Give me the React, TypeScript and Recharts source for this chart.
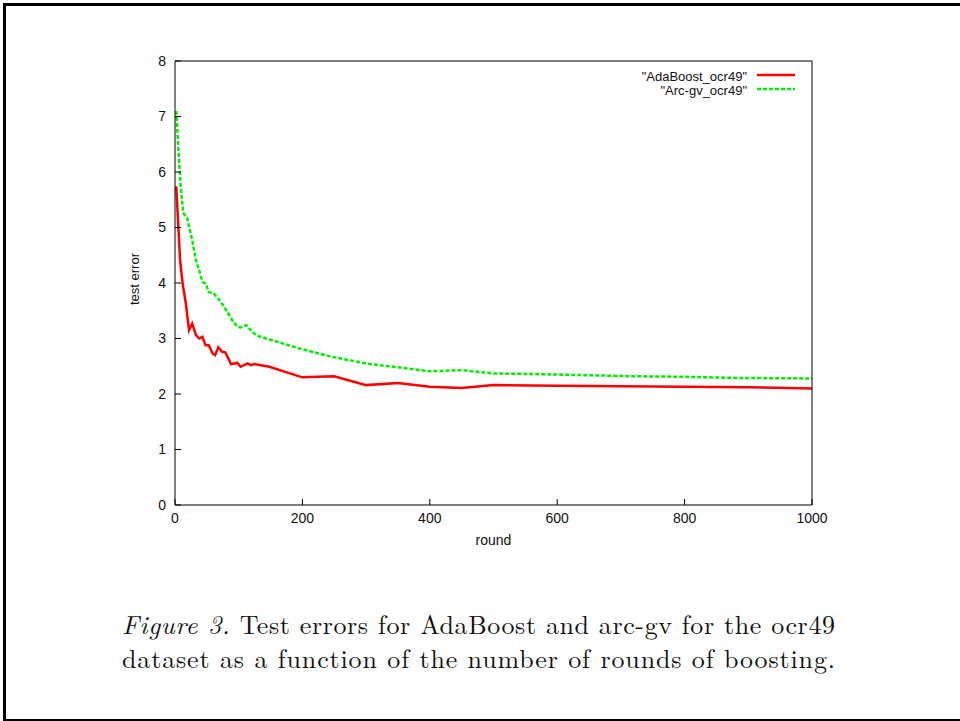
import React from 'react';
import { LineChart, Line, XAxis, YAxis, Legend } from 'recharts';

const adaRounds = [2, 5, 8, 12, 17, 22, 27, 33, 38, 43, 48, 53, 59, 63, 68, 74, 79, 88, 98, 103, 114, 119, 124, 148, 200, 250, 300, 350, 400, 450, 500, 600, 700, 800, 900, 1000];
const adaErrors = [5.74, 5.07, 4.41, 3.99, 3.63, 3.15, 3.27, 3.06, 3.0, 3.03, 2.88, 2.88, 2.73, 2.7, 2.84, 2.76, 2.75, 2.54, 2.56, 2.49, 2.55, 2.52, 2.54, 2.49, 2.3, 2.32, 2.16, 2.2, 2.13, 2.11, 2.16, 2.15, 2.14, 2.13, 2.12, 2.1];

const arcRounds = [2, 6, 9, 13, 19, 27, 33, 38, 43, 48, 53, 61, 72, 82, 90, 98, 103, 112, 119, 127, 143, 164, 195, 247, 300, 350, 400, 450, 500, 560, 640, 720, 800, 880, 1000];
const arcErrors = [7.1, 6.28, 5.74, 5.26, 5.17, 4.77, 4.41, 4.23, 4.02, 3.99, 3.84, 3.81, 3.66, 3.48, 3.33, 3.21, 3.2, 3.24, 3.15, 3.06, 3.0, 2.93, 2.82, 2.67, 2.55, 2.48, 2.41, 2.43, 2.37, 2.36, 2.34, 2.32, 2.31, 2.29, 2.28];

const xTicks = [0, 200, 400, 600, 800, 1000];
const yTicks = [0, 1, 2, 3, 4, 5, 6, 7, 8];
const seriesNames = ['"AdaBoost_ocr49"', '"Arc-gv_ocr49"'];
const seriesColors = ['#ff0000', '#00ee00'];
const seriesDash = ['', '4 2'];
const xLabel = 'round';
const yLabel = 'test error';
const captionItalic = 'Figure 3.';
const captionLine1 = ' Test errors for AdaBoost and arc-gv for the ocr49';
const captionLine2 = 'dataset as a function of the number of rounds of boosting.';

const adaData = adaRounds.map((r, i) => ({ round: r, err: adaErrors[i] }));
const arcData = arcRounds.map((r, i) => ({ round: r, err: arcErrors[i] }));

const SANS = '"Liberation Sans", Arial, Helvetica, sans-serif';
const SERIF = '"Latin Modern Roman", "Liberation Serif", "Times New Roman", serif';

function LegendContent(props: any) {
  const payload = props.payload || [];
  return (
    <svg width={960} height={40} style={{ display: 'block' }}>
      {payload.map((e: any, i: number) => {
        const cy = 12 + i * 14;
        return (
          <g key={i}>
            <text x={747} y={cy + 1} textAnchor="end" dominantBaseline="central" fontFamily={SANS} fontSize={13} fill="#111">
              {e.value}
            </text>
            <line x1={757} x2={795} y1={cy} y2={cy} stroke={e.color} strokeWidth={2.5} strokeDasharray={seriesDash[i] || undefined} />
          </g>
        );
      })}
    </svg>
  );
}

export default function App() {
  const tickStyle = { fontFamily: SANS, fontSize: 14, fill: '#111' };
  return (
    <div style={{ position: 'fixed', left: 0, top: 0, width: 960, height: 721, overflow: 'hidden', background: '#fff' }}>
      <div style={{ position: 'absolute', left: 3, top: 3, width: 1000, height: 719, border: '3px solid #000', boxSizing: 'border-box' }} />
      <div style={{ position: 'absolute', left: 0, top: 0 }}>
        <LineChart width={960} height={721} margin={{ top: 60, right: 147, bottom: 166, left: 125 }}>
          <XAxis
            xAxisId="main"
            dataKey="round"
            type="number"
            domain={[0, 1000]}
            ticks={xTicks}
            allowDataOverflow
            height={50}
            tickSize={-6}
            tickMargin={14}
            tick={tickStyle}
            stroke="#000"
            tickLine={{ stroke: '#000' }}
            axisLine={{ stroke: '#000' }}
            label={{
              content: (p: any) => {
                const vb = p.viewBox || {};
                return (
                  <text x={vb.x + vb.width / 2} y={vb.y + 35} textAnchor="middle" dominantBaseline="central" fontFamily={SANS} fontSize={14} fill="#111">
                    {xLabel}
                  </text>
                );
              },
            }}
          />
          <XAxis
            xAxisId="top"
            orientation="top"
            dataKey="round"
            type="number"
            domain={[0, 1000]}
            ticks={xTicks}
            allowDataOverflow
            height={1}
            tickSize={-6}
            tick={false}
            stroke="#000"
            tickLine={{ stroke: '#000' }}
            axisLine={{ stroke: '#000' }}
          />
          <YAxis
            yAxisId="main"
            type="number"
            domain={[0, 8]}
            ticks={yTicks}
            allowDataOverflow
            width={50}
            tickSize={-6}
            tickMargin={15}
            tick={tickStyle}
            stroke="#000"
            tickLine={{ stroke: '#000' }}
            axisLine={{ stroke: '#000' }}
            label={{
              content: (p: any) => {
                const vb = p.viewBox || {};
                const cx = vb.x + 9;
                const cy = vb.y + vb.height / 2 - 4;
                return (
                  <text x={cx} y={cy} transform={`rotate(-90 ${cx} ${cy})`} textAnchor="middle" dominantBaseline="central" fontFamily={SANS} fontSize={13} fill="#111">
                    {yLabel}
                  </text>
                );
              },
            }}
          />
          <YAxis
            yAxisId="right"
            orientation="right"
            type="number"
            domain={[0, 8]}
            ticks={yTicks}
            allowDataOverflow
            width={1}
            tickSize={-6}
            tick={false}
            stroke="#000"
            tickLine={{ stroke: '#000' }}
            axisLine={{ stroke: '#000' }}
          />
          <Legend
            layout="vertical"
            align="center"
            verticalAlign="middle"
            wrapperStyle={{ position: 'absolute', top: 63, left: 0, width: 960, height: 40 }}
            content={<LegendContent />}
          />
          <Line
            xAxisId="main"
            yAxisId="main"
            data={adaData}
            dataKey="err"
            name={seriesNames[0]}
            type="linear"
            stroke={seriesColors[0]}
            strokeWidth={2.5}
            dot={false}
            activeDot={false}
            isAnimationActive={false}
          />
          <Line
            xAxisId="main"
            yAxisId="main"
            data={arcData}
            dataKey="err"
            name={seriesNames[1]}
            type="linear"
            stroke={seriesColors[1]}
            strokeWidth={2.5}
            strokeDasharray={seriesDash[1]}
            dot={false}
            activeDot={false}
            isAnimationActive={false}
          />
        </LineChart>
      </div>
      <svg width={960} height={721} style={{ position: 'absolute', left: 0, top: 0, pointerEvents: 'none' }}>
        <text x={122} y={634} textLength={713} lengthAdjust="spacing" fontFamily={SERIF} fontSize={26} fill="#111">
          <tspan fontStyle="italic">{captionItalic}</tspan>
          {captionLine1}
        </text>
        <text x={122} y={668} textLength={713} lengthAdjust="spacing" fontFamily={SERIF} fontSize={26} fill="#111">
          {captionLine2}
        </text>
      </svg>
    </div>
  );
}
